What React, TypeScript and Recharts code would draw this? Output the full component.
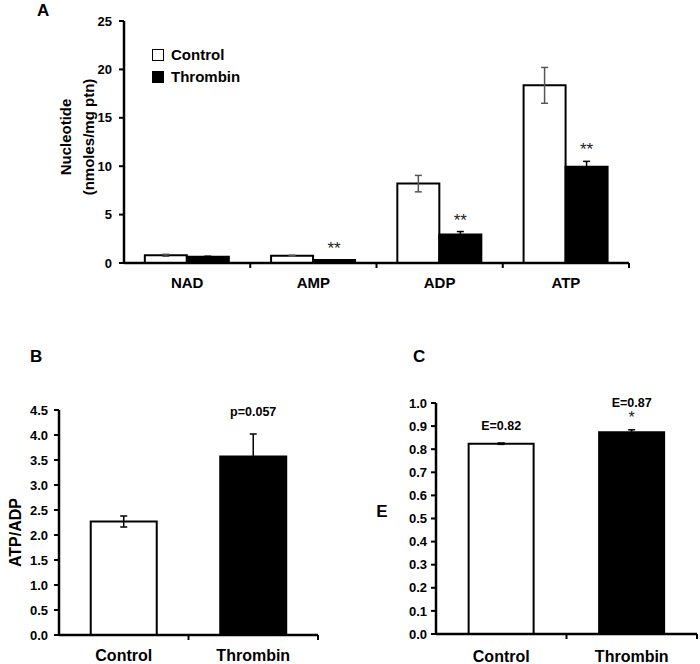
import React from "react";
import { Bar, BarChart, Cell, ErrorBar, LabelList, Legend, XAxis, YAxis } from "recharts";

const FONT = "Arial, 'Liberation Sans', Helvetica, sans-serif";

// panel A: nucleotide levels
const nucleotides = ["NAD", "AMP", "ADP", "ATP"];
const controlLevels = [0.8, 0.75, 8.2, 18.35];
const controlErr = [0.1, 0.05, 0.85, 1.85];
const thrombinLevels = [0.65, 0.3, 2.95, 9.95];
const thrombinErr = [0.05, 0.03, 0.3, 0.55];
const nucleotideSig = ["", "**", "**", "**"];
const nucleotideTicks = [0, 5, 10, 15, 20, 25];

// panels B and C
const groups = ["Control", "Thrombin"];
const groupFills = ["#ffffff", "#000000"];
const ratioValues = [2.27, 3.57];
const ratioErr = [0.11, 0.45];
const ratioNotes = ["", "p=0.057"];
const ratioTicks = [0, 0.5, 1, 1.5, 2, 2.5, 3, 3.5, 4, 4.5];

const chargeValues = [0.824, 0.873];
const chargeErr = [0.003, 0.011];
const chargeNotes = ["E=0.82", "E=0.87"];
const chargeSig = ["", "*"];
const chargeTicks = [0, 0.1, 0.2, 0.3, 0.4, 0.5, 0.6, 0.7, 0.8, 0.9, 1];

const nucleotideRows = nucleotides.map((name, i) => ({
  name,
  control: controlLevels[i],
  controlErr: controlErr[i],
  thrombin: thrombinLevels[i],
  thrombinErr: thrombinErr[i],
}));
const ratioRows = groups.map((name, i) => ({ name, value: ratioValues[i], err: ratioErr[i] }));
const chargeRows = groups.map((name, i) => ({ name, value: chargeValues[i], err: chargeErr[i] }));

const axisStroke = { stroke: "#000", strokeWidth: 2.5 };
const tickStroke = { stroke: "#000", strokeWidth: 2 };

function CategoryTick(props: any) {
  const { x, y, payload, band, gap, size } = props;
  const axisY = y - gap;
  const edge = x + band / 2;
  return (
    <g>
      <line x1={edge} x2={edge} y1={axisY} y2={axisY + 5} stroke="#000" strokeWidth={2} />
      <text x={x} y={y} dy="0.71em" textAnchor="middle" fontFamily={FONT} fontWeight="bold" fontSize={size} fill="#000">
        {payload.value}
      </text>
    </g>
  );
}

function AxisTitle(props: any) {
  const { lines, offsets, shift, size, rotate, fallback } = props;
  const vb = props.viewBox ?? fallback;
  const cy = vb.y + vb.height / 2 + shift;
  return (
    <g>
      {lines.map((t: string, i: number) => {
        const cx = vb.x + offsets[i];
        return (
          <text
            key={t}
            x={cx}
            y={cy}
            transform={rotate ? `rotate(-90 ${cx} ${cy})` : undefined}
            textAnchor="middle"
            dominantBaseline="central"
            fontFamily={FONT}
            fontWeight="bold"
            fontSize={size}
            fill="#000"
          >
            {t}
          </text>
        );
      })}
    </g>
  );
}

function SigMark(props: any) {
  const { index, values, errs, marks } = props;
  const vb = props.viewBox ?? props;
  const mark = marks[index];
  if (!mark) return null;
  const px = values[index] ? vb.height / values[index] : 0;
  const top = vb.y - errs[index] * px;
  return (
    <text x={vb.x + vb.width / 2} y={top - 6} textAnchor="middle" fontFamily={FONT} fontSize={17} fill="#222">
      {mark}
    </text>
  );
}

function NoteMark(props: any) {
  const { index, values, errs, notes, sigs, lift } = props;
  const vb = props.viewBox ?? props;
  const px = values[index] ? vb.height / values[index] : 0;
  const top = vb.y - errs[index] * px;
  const cx = vb.x + vb.width / 2;
  const sig = sigs ? sigs[index] : "";
  return (
    <g>
      {sig ? (
        <text x={cx} y={top - 7} textAnchor="middle" fontFamily={FONT} fontSize={16} fill="#222">
          {sig}
        </text>
      ) : null}
      {notes[index] ? (
        <text x={cx} y={top - lift - (sig ? 10 : 0)} textAnchor="middle" fontFamily={FONT} fontWeight="bold" fontSize={12.5} fill="#000">
          {notes[index]}
        </text>
      ) : null}
    </g>
  );
}

function KeyBox(props: any) {
  const { payload } = props;
  return (
    <div style={{ fontFamily: FONT, fontWeight: "bold", fontSize: 15, color: "#000", lineHeight: "22px" }}>
      {(payload || []).map((entry: any) => (
        <div key={entry.value} style={{ display: "flex", alignItems: "center", whiteSpace: "nowrap" }}>
          <span
            style={{
              display: "inline-block",
              width: 12,
              height: 12,
              boxSizing: "border-box",
              border: "1.5px solid #000",
              background: entry.color,
              marginRight: 7,
            }}
          />
          {entry.value}
        </div>
      ))}
    </div>
  );
}

function PanelLetter({ text, left, top }: { text: string; left: number; top: number }) {
  return (
    <div style={{ position: "absolute", left, top, fontFamily: FONT, fontWeight: "bold", fontSize: 17, lineHeight: "17px", color: "#000" }}>
      {text}
    </div>
  );
}

export default function App() {
  const bandA = (700 - 124 - 71) / nucleotides.length;
  const bandB = (350 - 59 - 32) / groups.length;
  const bandC = (350 - 86 - 3) / groups.length;
  return (
    <div style={{ position: "absolute", left: 0, top: 0, width: 700, height: 664, background: "#fff" }}>
      <PanelLetter text="A" left={37} top={2} />
      <PanelLetter text="B" left={30} top={348} />
      <PanelLetter text="C" left={413} top={348} />

      <div style={{ position: "absolute", left: 0, top: 0 }}>
        <BarChart width={700} height={300} data={nucleotideRows} margin={{ top: 21, right: 71, bottom: 0, left: 0 }} barCategoryGap="16.5%" barGap={0}>
          <XAxis
            dataKey="name"
            height={37}
            interval={0}
            axisLine={axisStroke}
            tickLine={false}
            tickSize={0}
            tickMargin={14}
            tick={<CategoryTick band={bandA} gap={14} size={15} />}
          />
          <YAxis
            type="number"
            width={124}
            domain={[0, 25]}
            ticks={nucleotideTicks}
            interval={0}
            axisLine={axisStroke}
            tickLine={tickStroke}
            tickSize={5}
            tickMargin={7}
            tick={{ fill: "#000", fontSize: 13, fontWeight: "bold", fontFamily: FONT }}
            label={
              <AxisTitle
                lines={["Nucleotide", "(nmoles/mg ptn)"]}
                offsets={[65, 88]}
                shift={-5}
                size={15}
                rotate
                fallback={{ x: 0, y: 21, width: 124, height: 242 }}
              />
            }
          />
          <Legend
            layout="vertical"
            align="center"
            verticalAlign="middle"
            content={<KeyBox />}
            wrapperStyle={{ left: 152, top: 44, width: "auto" }}
          />
          <Bar dataKey="control" name="Control" fill="#ffffff" stroke="#000" strokeWidth={2} isAnimationActive={false}>
            <ErrorBar dataKey="controlErr" width={3.5} stroke="#555" strokeWidth={1.5} />
          </Bar>
          <Bar dataKey="thrombin" name="Thrombin" fill="#000000" stroke="#000" strokeWidth={2} isAnimationActive={false}>
            <ErrorBar dataKey="thrombinErr" width={3.5} stroke="#000" strokeWidth={1.5} />
            <LabelList dataKey="thrombin" content={<SigMark values={thrombinLevels} errs={thrombinErr} marks={nucleotideSig} />} />
          </Bar>
        </BarChart>
      </div>

      <div style={{ position: "absolute", left: 0, top: 330 }}>
        <BarChart width={350} height={334} data={ratioRows} margin={{ top: 80, right: 32, bottom: 0, left: 0 }} barCategoryGap="24.5%">
          <XAxis
            dataKey="name"
            height={29}
            interval={0}
            axisLine={axisStroke}
            tickLine={false}
            tickSize={0}
            tickMargin={15}
            tick={<CategoryTick band={bandB} gap={15} size={16} />}
          />
          <YAxis
            type="number"
            width={59}
            domain={[0, 4.5]}
            ticks={ratioTicks}
            interval={0}
            axisLine={axisStroke}
            tickLine={tickStroke}
            tickSize={5}
            tickMargin={6}
            tickFormatter={(v: number) => v.toFixed(1)}
            tick={{ fill: "#000", fontSize: 13, fontWeight: "bold", fontFamily: FONT }}
            label={
              <AxisTitle lines={["ATP/ADP"]} offsets={[15]} shift={10} size={16} rotate fallback={{ x: 0, y: 80, width: 59, height: 225 }} />
            }
          />
          <Bar dataKey="value" stroke="#000" strokeWidth={2} isAnimationActive={false}>
            {ratioRows.map((r, i) => (
              <Cell key={r.name} fill={groupFills[i]} />
            ))}
            <ErrorBar dataKey="err" width={3.5} stroke="#000" strokeWidth={1.5} />
            <LabelList dataKey="value" content={<NoteMark values={ratioValues} errs={ratioErr} notes={ratioNotes} lift={18} />} />
          </Bar>
        </BarChart>
      </div>

      <div style={{ position: "absolute", left: 350, top: 330 }}>
        <BarChart width={350} height={334} data={chargeRows} margin={{ top: 73, right: 3, bottom: 0, left: 0 }} barCategoryGap="25%">
          <XAxis
            dataKey="name"
            height={30}
            interval={0}
            axisLine={axisStroke}
            tickLine={false}
            tickSize={0}
            tickMargin={17}
            tick={<CategoryTick band={bandC} gap={17} size={16} />}
          />
          <YAxis
            type="number"
            width={86}
            domain={[0, 1]}
            ticks={chargeTicks}
            interval={0}
            axisLine={axisStroke}
            tickLine={tickStroke}
            tickSize={5}
            tickMargin={4}
            tickFormatter={(v: number) => v.toFixed(1)}
            tick={{ fill: "#000", fontSize: 13, fontWeight: "bold", fontFamily: FONT }}
            label={<AxisTitle lines={["E"]} offsets={[32]} shift={-7} size={17} fallback={{ x: 0, y: 73, width: 86, height: 231 }} />}
          />
          <Bar dataKey="value" stroke="#000" strokeWidth={2} isAnimationActive={false}>
            {chargeRows.map((r, i) => (
              <Cell key={r.name} fill={groupFills[i]} />
            ))}
            <ErrorBar dataKey="err" width={3.5} stroke="#000" strokeWidth={1.5} />
            <LabelList
              dataKey="value"
              content={<NoteMark values={chargeValues} errs={chargeErr} notes={chargeNotes} sigs={chargeSig} lift={13} />}
            />
          </Bar>
        </BarChart>
      </div>
    </div>
  );
}
